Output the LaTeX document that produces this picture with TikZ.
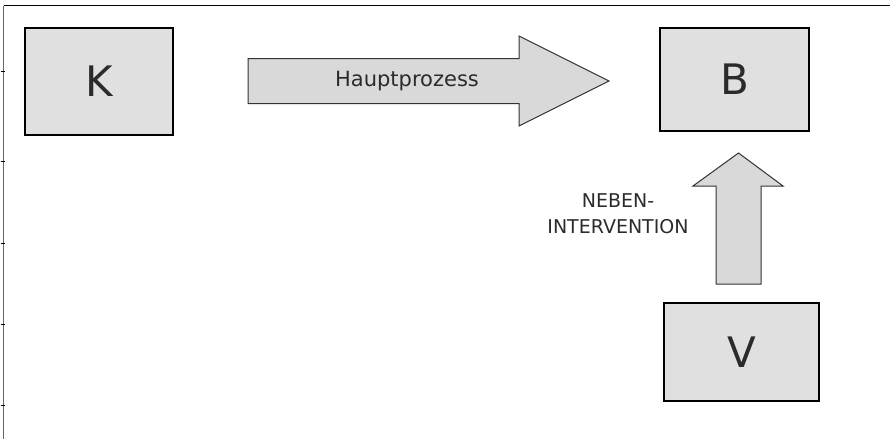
\documentclass[tikz,border=0pt]{standalone}
\usepackage{fontspec}
\setmainfont{DejaVu Sans}
\usepackage{tikz}
\definecolor{boxgray}{HTML}{E0E0E0}
\definecolor{arrowgray}{HTML}{D9D9D9}
\definecolor{textgray}{HTML}{2B2B2B}
\definecolor{framegray}{HTML}{666666}
\tikzset{
    kasten/.style={draw=black, line width=1.2pt, fill=boxgray, text=textgray,
        inner sep=0pt, font=\fontsize{42}{42}\selectfont},
    blockpfeil/.style={draw=black!80, line width=1pt, fill=arrowgray, line join=miter},
    beschriftung/.style={text=textgray, font=\fontsize{21}{26}\selectfont, align=center}
}

\begin{document}
\begin{tikzpicture}[x=1pt, y=-1pt]
        \useasboundingbox (0, 0) rectangle (890, 439);

        % rahmen
        \draw[framegray, line width=1.5pt] (3.5, 5.5) -- (3.5, 439);
        \draw[black, line width=1.2pt] (3.5, 5.5) -- (890, 5.5);
        \foreach \y in {71, 161, 243, 324, 405}
            \draw[black, line width=0.8pt] (0.5, \y) -- (4.5, \y);

        % kaesten
        \node[kasten, minimum width=148pt, minimum height=107pt] (K) at (99, 81.5) {K};
        \node[kasten, minimum width=149pt, minimum height=103pt] (B) at (734.5, 79.5) {B};
        \node[kasten, minimum width=155pt, minimum height=98pt] (V) at (741.5, 352) {V};

        % pfeile
        \filldraw[blockpfeil] (248, 58.5) -- (519, 58.5) -- (519, 36) -- (609, 81)
            -- (519, 126) -- (519, 103.5) -- (248, 103.5) -- cycle;
        \filldraw[blockpfeil] (716, 284) -- (716, 186) -- (693, 186) -- (738.5, 153)
            -- (783, 186) -- (761, 186) -- (761, 284) -- cycle;

        \node[beschriftung] (haupt) at (407, 81) {Hauptprozess};
        \node[beschriftung, font=\fontsize{19}{26}\selectfont] (neben) at (618, 214)
            {NEBEN-\\INTERVENTION};
    \end{tikzpicture}
\end{document}
